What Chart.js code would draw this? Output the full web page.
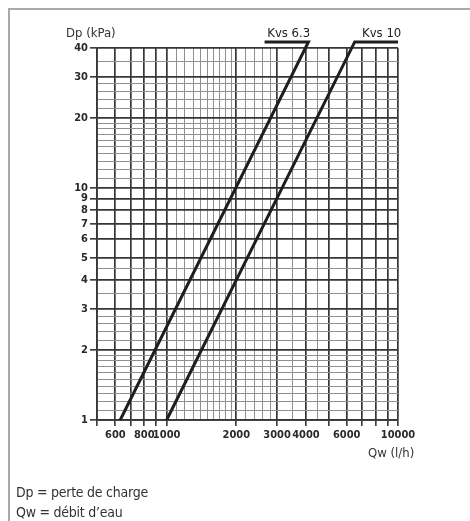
<!DOCTYPE html>
<html>
<head>
<meta charset="utf-8">
<script src="https://cdn.jsdelivr.net/npm/chart.js@4/dist/chart.umd.min.js"></script>
<style>
  html, body { margin:0; padding:0; background:#fff; }
  body { width:470px; height:521px; position:relative; overflow:hidden; }
  #frame { position:absolute; left:8px; top:8px; width:480px; height:530px;
           border-top:2px solid #a9a9a9; border-left:2px solid #a9a9a9; }
  #wrap { position:absolute; left:0; top:0; width:470px; height:521px; }
  .txt { position:absolute; font-family:"Liberation Sans Narrow","DejaVu Sans Condensed",sans-serif; color:#333; white-space:nowrap; }
</style>
</head>
<body>
<div id="frame"></div>
<div id="wrap"><canvas id="c" width="470" height="521"></canvas></div>
<div class="txt" style="left:66px; top:25px; font-size:13px;">Dp (kPa)</div>
<div class="txt" style="left:368px; top:445px; font-size:13px;">Qw (l/h)</div>
<div class="txt" style="left:16px; top:484px; font-size:14px; letter-spacing:-0.25px;">Dp = perte de charge</div>
<div class="txt" style="left:16px; top:504px; font-size:14px; letter-spacing:-0.25px;">Qw = débit d’eau</div>
<script>
// ---- data ----
const seriesNames = ['Kvs 6.3', 'Kvs 10'];
const flowKvs63 = [630, 4100, 2650];   // l/h  (last point = leader line end)
const dpKvs63   = [1, 42.5, 42.5];     // kPa
const flowKvs10 = [1000, 6500, 10000];
const dpKvs10   = [1, 42.5, 42.5];
const labelFlow = [3370, 8500];        // where the series names sit
const labelDp   = [42.5, 42.5];

const xMajor = [500,600,700,800,900,1000,2000,3000,4000,5000,6000,7000,8000,9000,10000];
const xMinor = [1100,1200,1300,1400,1500,1600,1700,1800,1900,2200,2400,2600,2800,3500,4500];
const xTickLabels = [600,800,1000,2000,3000,4000,6000,10000];
const yMajor = [1,2,3,4,5,6,7,8,9,10,20,30,40];
const yMinor = [1.1,1.2,1.3,1.4,1.5,1.6,1.7,1.8,1.9,2.2,2.4,2.6,2.8,3.5,4.5,
                11,12,13,14,15,16,17,18,19,22,24,26,28,35];
const yTickLabels = [1,2,3,4,5,6,7,8,9,10,20,30,40];

const pts = (xs, ys) => xs.map((x, i) => ({x, y: ys[i]}));
const isMajor = (arr, v) => arr.some(a => Math.abs(a - v) < 1e-6);
const numFont = { family: '"Liberation Sans Narrow","DejaVu Sans Condensed",sans-serif', size: 11, weight: 'bold' };

function gridOpts(major) {
  return {
    color: c => (c.tick && isMajor(major, c.tick.value)) ? '#363636' : '#909090',
    lineWidth: c => (c.tick && isMajor(major, c.tick.value)) ? 1.7 : 1,
    tickColor: c => (c.tick && isMajor(major, c.tick.value)) ? '#363636' : 'rgba(0,0,0,0)',
    tickWidth: 1.6,
    drawTicks: true
  };
}

const labelPlugin = {
  id: 'seriesLabels',
  afterDatasetsDraw(chart) {
    const {ctx, scales:{x, y}} = chart;
    ctx.save();
    ctx.fillStyle = '#222';
    ctx.font = '13px "Liberation Sans Narrow","DejaVu Sans Condensed",sans-serif';
    ctx.textAlign = 'center';
    ctx.textBaseline = 'bottom';
    seriesNames.forEach((n, i) => {
      ctx.fillText(n, x.getPixelForValue(labelFlow[i]), y.getPixelForValue(labelDp[i]) - 2);
    });
    ctx.restore();
  }
};

new Chart(document.getElementById('c'), {
  type: 'scatter',
  data: {
    datasets: [
      { label: seriesNames[0], data: pts(flowKvs63, dpKvs63), showLine: true, clip: false,
        borderColor: '#1e1e1e', borderWidth: 3, pointRadius: 0, borderCapStyle: 'butt', borderJoinStyle: 'miter' },
      { label: seriesNames[1], data: pts(flowKvs10, dpKvs10), showLine: true, clip: false,
        borderColor: '#1e1e1e', borderWidth: 3, pointRadius: 0, borderCapStyle: 'butt', borderJoinStyle: 'miter' }
    ]
  },
  options: {
    responsive: false,
    animation: false,
    layout: { padding: { left: 0, right: 72, top: 48, bottom: 71 } },
    plugins: { legend: { display: false }, tooltip: { enabled: false } },
    scales: {
      x: {
        type: 'logarithmic', min: 500, max: 10000,
        afterBuildTicks: s => { s.ticks = [...xMajor, ...xMinor].sort((a,b)=>a-b).map(v => ({value: v})); },
        afterFit: s => { s.height = 30; },
        ticks: { autoSkip: false, maxRotation: 0, minRotation: 0, padding: 3, color: '#2a2a2a', font: numFont,
                 callback: v => xTickLabels.includes(v) ? String(v) : '' },
        grid: { ...gridOpts(xMajor), tickLength: 6 },
        border: { display: true, color: '#363636', width: 1.7 }
      },
      y: {
        type: 'logarithmic', min: 1, max: 40,
        afterBuildTicks: s => { s.ticks = [...yMajor, ...yMinor].sort((a,b)=>a-b).map(v => ({value: v})); },
        afterFit: s => { s.width = 97; },
        ticks: { autoSkip: false, padding: 2, color: '#2a2a2a', font: numFont,
                 callback: v => yTickLabels.includes(v) ? String(v) : '' },
        grid: { ...gridOpts(yMajor), tickLength: 7 },
        border: { display: true, color: '#363636', width: 1.7 }
      }
    }
  },
  plugins: [labelPlugin]
});
</script>
</body>
</html>
